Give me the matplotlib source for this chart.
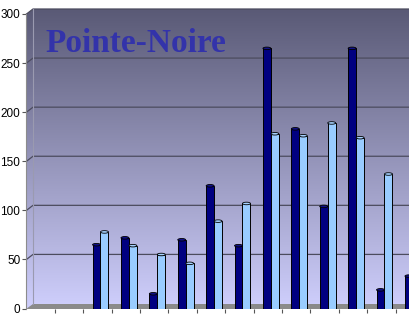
import numpy as np
import matplotlib.pyplot as plt
from matplotlib.patches import Polygon, Ellipse

# values (first two categories are empty)
categories = list(range(1, 15))
dark_vals = [None, None, 65, 72, 15, 70, 125, 64, 265, 183, 104, 265, 19, 33]
light_vals = [None, None, 78, 64, 55, 46, 89, 107, 178, 176, 189, 174, 137, None]
yticks = [0, 50, 100, 150, 200, 250, 300]
title = "Pointe-Noire"

fig = plt.figure(figsize=(4.09, 3.18), dpi=100)
fig.patch.set_facecolor("white")

# plot box in pixels: axis at x=26.5, y 0 -> 308.5 px, 300 -> 14 px
ax = fig.add_axes([26.5 / 409, 9.5 / 318, (409 - 26.5) / 409, 300.5 / 318])
xmax = (409 - 26.5) / 28.4
ymax = 300.5 / (294.5 / 300)
ax.patch.set_visible(False)

# 3d depth offset, in data units
dx = 6.5 / 28.4
dy = 5 / (294.5 / 300)

# back wall + side wall with a vertical gradient
top = np.array([0.35, 0.35, 0.46])
bot = np.array([0.81, 0.81, 0.99])
t = np.linspace(0, 1, 256).reshape(-1, 1, 1)
grad = top * (1 - t) + bot * t
wall = Polygon([(0, 0), (0, 300), (dx, 300 + dy), (xmax + 1, 300 + dy),
                (xmax + 1, 0)], closed=True, facecolor="none",
               edgecolor="none", transform=ax.transData)
ax.add_patch(wall)
im = ax.imshow(grad, extent=(0, xmax + 1, 0, 300 + dy), aspect="auto",
               zorder=0, interpolation="bilinear")
im.set_clip_path(wall)
ax.set_xlim(0, xmax)
ax.set_ylim(0, ymax)

# floor
floor = Polygon([(0, 0), (xmax + 1, 0), (xmax + 1, dy), (dx, dy)],
                closed=True, facecolor="#8a8a8a", edgecolor="none", zorder=1)
ax.add_patch(floor)

# gridlines on back wall with diagonal connectors
for v in yticks[1:]:
    ax.plot([0, dx, xmax + 1], [v, v + dy, v + dy], color="#4c4c5e",
            lw=0.9, zorder=1.5, clip_on=False)
ax.plot([dx, dx], [dy, 300 + dy], color="#9a9ab0", lw=0.8, zorder=1.5)

# bars
w = 0.28
shift = 3 / 28.4
x = np.arange(len(categories)) + 0.5 + shift
for xs, vals, col, capc in [(x - w / 2, dark_vals, "#000080", "#101088"),
                            (x + w / 2, light_vals, "#99ccff", "#a6d2ff")]:
    xx = [a for a, v in zip(xs, vals) if v is not None]
    vv = [v for v in vals if v is not None]
    ax.bar(xx, vv, width=w, color=col, edgecolor="black", lw=0.7, zorder=3)
    for a, v in zip(xx, vv):
        ax.add_patch(Ellipse((a, v), w, 2.6, facecolor=capc,
                             edgecolor="black", lw=0.6, zorder=4))

# axes styling
for s in ["top", "right", "bottom"]:
    ax.spines[s].set_visible(False)
ax.spines["left"].set_bounds(0, 300)
ax.spines["left"].set_color("#8c8c8c")
ax.set_yticks(yticks)
ax.tick_params(axis="y", length=3, width=0.8, color="#555555", pad=1.5,
               labelsize=8.5)
ax.set_xticks(np.arange(1, len(categories)))
ax.tick_params(axis="x", length=3, width=0.8, color="#555555",
               labelbottom=False)
for lab in ax.get_yticklabels():
    lab.set_family("Liberation Sans")

fig.text(45 / 409, 1 - 44 / 318, title, ha="left", va="center",
         fontsize=24, fontweight="bold", family="Liberation Serif",
         color="#3333aa")

fig.savefig("out.png", dpi=100)
